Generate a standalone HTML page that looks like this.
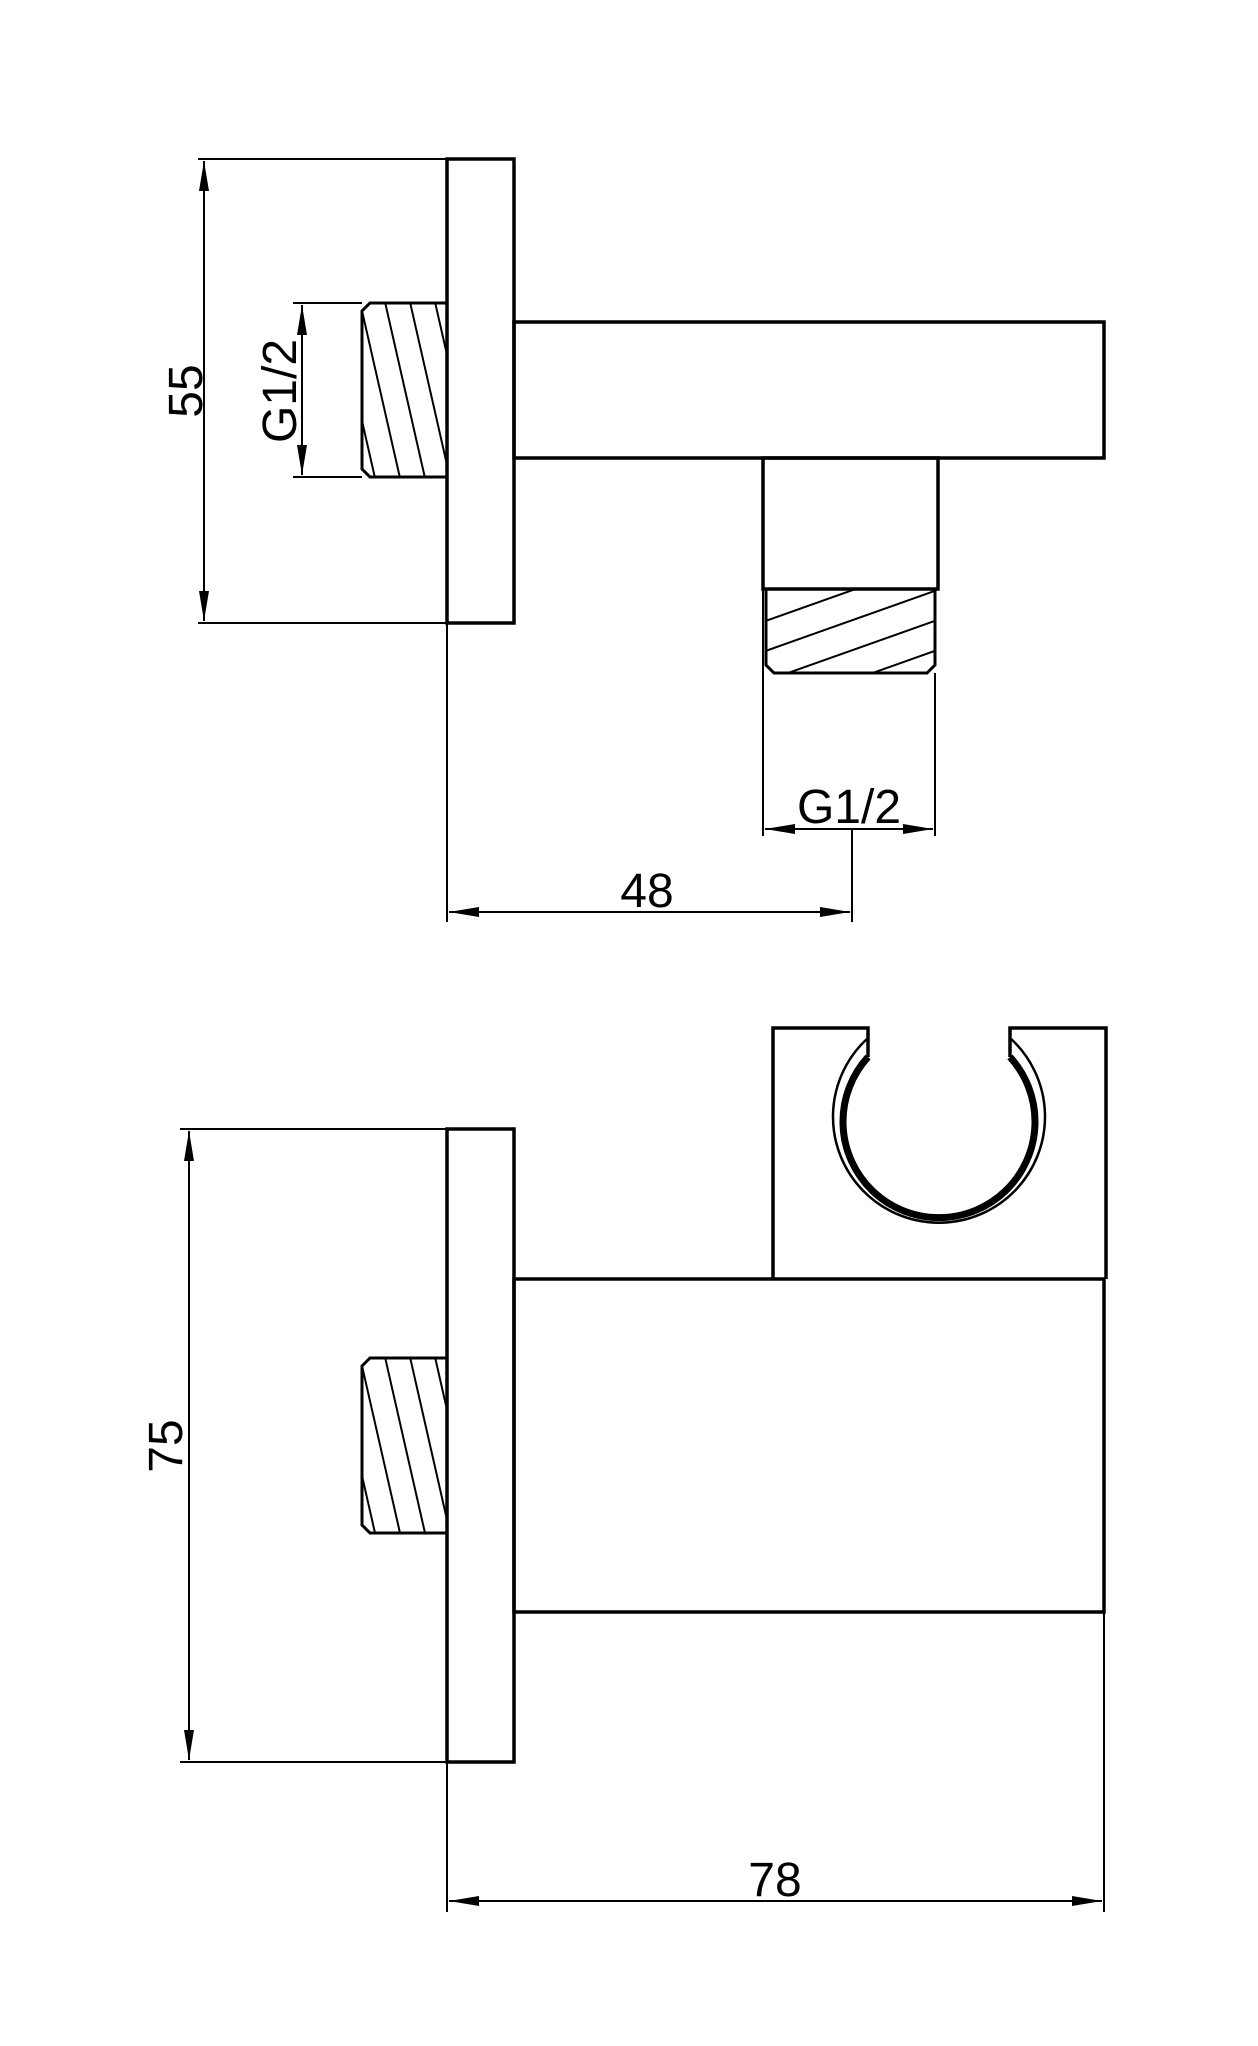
<!DOCTYPE html>
<html><head><meta charset="utf-8"><style>
html,body{margin:0;padding:0;background:#fff;}
svg{display:block;}
text{font-family:"Liberation Sans",sans-serif;font-size:48px;fill:#000;}
</style></head><body>
<svg width="1258" height="2046" viewBox="0 0 1258 2046" xmlns="http://www.w3.org/2000/svg">
<defs>
<marker id="a" viewBox="0 0 30 10" refX="30" refY="5" markerWidth="30" markerHeight="10" markerUnits="userSpaceOnUse" orient="auto-start-reverse"><path d="M0,0 L30,5 L0,10 Z" fill="#000"/></marker>
<clipPath id="t1"><path d="M370,303 L447,303 L447,477 L370,477 L362,469 L362,311 Z"/></clipPath>
<clipPath id="t2"><path d="M766,589 L935,589 L935,665 L927,673 L774,673 L766,665 Z"/></clipPath>
<clipPath id="t3"><path d="M370,1358 L447,1358 L447,1533 L370,1533 L362,1525 L362,1366 Z"/></clipPath>
</defs>
<g fill="none" stroke="#000" stroke-width="3.5">
<rect x="447" y="159" width="67" height="464"/>
<rect x="514" y="322" width="590" height="136"/>
<rect x="763" y="458" width="175" height="131"/>
<path d="M370,303 L447,303 L447,477 L370,477 L362,469 L362,311 Z" stroke-width="3"/>
<path d="M766,589 L935,589 L935,665 L927,673 L774,673 L766,665 Z" stroke-width="3"/>
<rect x="447" y="1129" width="67" height="633"/>
<rect x="514" y="1279" width="590" height="333"/>
<path d="M773,1279 L773,1028 L868,1028 L868,1057 M1010,1057 L1010,1028 L1106,1028 L1106,1279"/>
<path d="M362,1366 L370,1358 L447,1358 L447,1533 L370,1533 L362,1525 Z" stroke-width="3"/>
</g>
<g fill="none" stroke="#000">
<path d="M868,1038 A106,106 0 1 0 1010,1038" stroke-width="2.5"/>
<path d="M868,1057 A96,96 0 1 0 1010,1057" stroke-width="7"/>
</g>
<g stroke="#000" stroke-width="2" clip-path="url(#t1)">
<path d="M330,280 L380,500 M355,280 L405,500 M380,280 L430,500 M405,280 L455,500 M430,280 L480,500 M455,280 L505,500"/>
</g>
<g stroke="#000" stroke-width="2" clip-path="url(#t2)">
<path d="M740,630 L960,552 M740,660 L960,582 M740,690 L960,612 M740,720 L960,642 M740,750 L960,672"/>
</g>
<g stroke="#000" stroke-width="2" clip-path="url(#t3)">
<path d="M330,1335 L380,1555 M355,1335 L405,1555 M380,1335 L430,1555 M405,1335 L455,1555 M430,1335 L480,1555 M455,1335 L505,1555"/>
</g>
<g fill="none" stroke="#000" stroke-width="2">
<line x1="198" y1="159" x2="447" y2="159"/>
<line x1="198" y1="623" x2="447" y2="623"/>
<line x1="204" y1="161" x2="204" y2="621" marker-start="url(#a)" marker-end="url(#a)"/>
<line x1="293" y1="303" x2="362" y2="303"/>
<line x1="293" y1="477" x2="362" y2="477"/>
<line x1="302" y1="305" x2="302" y2="475" marker-start="url(#a)" marker-end="url(#a)"/>
<line x1="763" y1="589" x2="763" y2="836"/>
<line x1="935" y1="673" x2="935" y2="836"/>
<line x1="765" y1="829" x2="933" y2="829" marker-start="url(#a)" marker-end="url(#a)"/>
<line x1="852" y1="829" x2="852" y2="922"/>
<line x1="447" y1="623" x2="447" y2="922"/>
<line x1="449" y1="912" x2="850" y2="912" marker-start="url(#a)" marker-end="url(#a)"/>
<line x1="180" y1="1129" x2="447" y2="1129"/>
<line x1="180" y1="1762" x2="447" y2="1762"/>
<line x1="189" y1="1131" x2="189" y2="1760" marker-start="url(#a)" marker-end="url(#a)"/>
<line x1="447" y1="1762" x2="447" y2="1912"/>
<line x1="1104" y1="1612" x2="1104" y2="1912"/>
<line x1="449" y1="1901" x2="1102" y2="1901" marker-start="url(#a)" marker-end="url(#a)"/>
</g>
<text x="0" y="17" text-anchor="middle" transform="translate(185 391) rotate(-90)">55</text>
<text x="0" y="17" text-anchor="middle" transform="translate(279 391) rotate(-90)">G1/2</text>
<text x="849" y="823" text-anchor="middle">G1/2</text>
<text x="647" y="907" text-anchor="middle">48</text>
<text x="0" y="17" text-anchor="middle" transform="translate(165 1446) rotate(-90)">75</text>
<text x="775" y="1896" text-anchor="middle">78</text>
</svg>
</body></html>
